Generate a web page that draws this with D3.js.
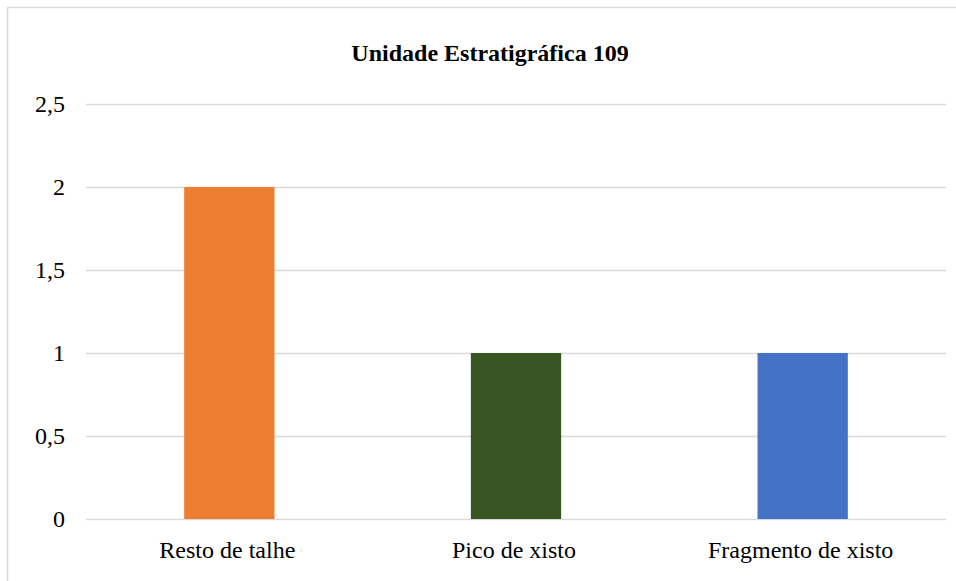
<!DOCTYPE html>
<html><head><meta charset="utf-8">
<script src="https://cdn.jsdelivr.net/npm/d3@7"></script>
<style>body{margin:0;background:#fff}svg{display:block}</style>
</head><body>
<script>
const categories = ["Resto de talhe", "Pico de xisto", "Fragmento de xisto"];
const values = [2, 1, 1];
const colors = ["#ED7D31", "#375623", "#4472C4"];
const yTicks = [0, 0.5, 1, 1.5, 2, 2.5];
const title = "Unidade Estratigráfica 109";

(function () {
const W = 956, H = 581;
const FONT = '"Liberation Serif", "Times New Roman", serif';
const svg = d3.select("body").append("svg").attr("width", W).attr("height", H);
svg.append("rect").attr("x", 7.5).attr("y", 7.5).attr("width", 960).attr("height", 590)
  .attr("fill", "#fff").attr("stroke", "#d9d9d9").attr("stroke-width", 1.5);

const mLeft = 86, mRight = 946, mTop = 104, mBottom = 519;
const x = d3.scaleBand().domain(categories).range([mLeft, mRight]).paddingInner(0.685).paddingOuter(0.3425);
const y = d3.scaleLinear().domain([0, 2.5]).range([mBottom, mTop]);

svg.append("g").selectAll("line").data(yTicks).join("line")
  .attr("x1", mLeft).attr("x2", mRight)
  .attr("y1", d => y(d) + 0.5).attr("y2", d => y(d) + 0.5)
  .attr("stroke", "#d9d9d9").attr("stroke-width", 1.5);

svg.append("g").selectAll("text").data(yTicks).join("text")
  .attr("x", 65).attr("y", d => y(d)).attr("dy", "0.35em")
  .attr("text-anchor", "end").style("font-family", FONT).style("font-size", "24px")
  .attr("fill", "#000").text(d => String(d).replace(".", ","));

svg.append("g").selectAll("rect").data(values).join("rect")
  .attr("x", (d, i) => x(categories[i])).attr("width", x.bandwidth())
  .attr("y", d => y(d)).attr("height", d => y(0) - y(d))
  .attr("fill", (d, i) => colors[i]);

svg.append("g").selectAll("text").data(categories).join("text")
  .attr("x", d => x(d) + x.bandwidth() / 2 - 2).attr("y", 558)
  .attr("text-anchor", "middle").style("font-family", FONT).style("font-size", "24px")
  .attr("fill", "#000").text(d => d);

svg.append("text").attr("x", 490).attr("y", 61).attr("text-anchor", "middle")
  .style("font-family", FONT).style("font-size", "24px").style("font-weight", "bold")
  .attr("fill", "#000").text(title);
})();
</script>
</body></html>
